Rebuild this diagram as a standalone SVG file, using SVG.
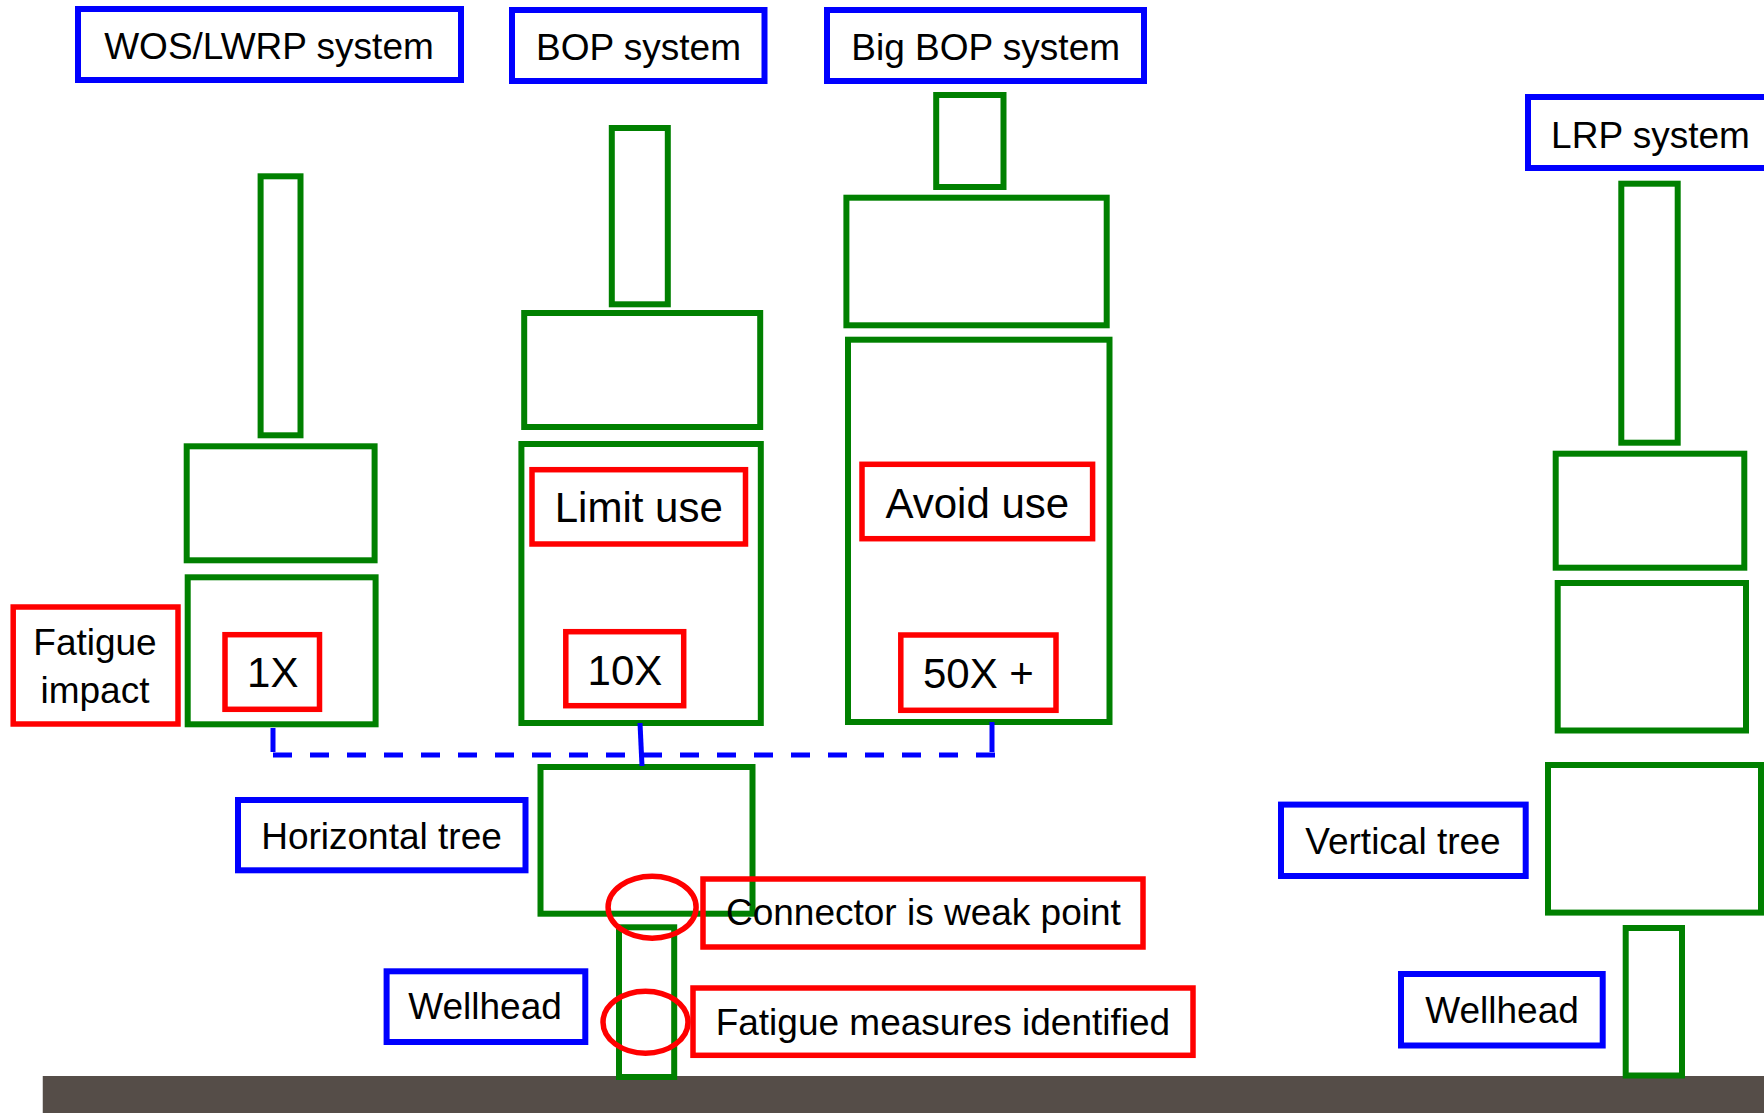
<svg xmlns="http://www.w3.org/2000/svg" width="1764" height="1113" viewBox="0 0 1764 1113">
<style>
.g{fill:none;stroke:#008000;stroke-width:6}
.b{fill:none;stroke:#0000FF;stroke-width:6}
.r{fill:none;stroke:#FF0000;stroke-width:5.5}
.t{font-family:"Liberation Sans",Arial,sans-serif;font-size:37px;fill:#000;text-anchor:middle}
.tb{font-family:"Liberation Sans",Arial,sans-serif;font-size:42px;fill:#000;text-anchor:middle}
.c{fill:none;stroke:#0000FF;stroke-width:5}
</style>
<rect width="1764" height="1113" fill="#fff"/>
<rect id="ground" x="42.75" y="1076" width="1722" height="37" fill="#554D48"/>

<g id="wos-riser"><rect class="g" x="260.6" y="176.3" width="39.9" height="259"/></g>
<g id="wos-box1"><rect class="g" x="186.7" y="446.3" width="187.9" height="114"/></g>
<g id="wos-box2"><rect class="g" x="187.7" y="577.3" width="187.9" height="147"/></g>
<g id="bop-riser"><rect class="g" x="611.8" y="128" width="56" height="176.3"/></g>
<g id="bop-box1"><rect class="g" x="524.2" y="313" width="236" height="114"/></g>
<g id="bop-box2"><rect class="g" x="521.4" y="444" width="239.4" height="279"/></g>
<g id="bigbop-top"><rect class="g" x="936.2" y="95" width="67.3" height="92"/></g>
<g id="bigbop-box1"><rect class="g" x="846.4" y="197.7" width="260.3" height="127.6"/></g>
<g id="bigbop-box2"><rect class="g" x="848" y="339.7" width="261.5" height="382.3"/></g>
<g id="htree"><rect class="g" x="540.5" y="767" width="212" height="146.7"/></g>
<g id="wellhead-left-tube"><rect class="g" x="619" y="927.3" width="55.2" height="149.7"/></g>
<g id="lrp-riser"><rect class="g" x="1621.3" y="183.7" width="56.4" height="259"/></g>
<g id="lrp-box1"><rect class="g" x="1555.7" y="453.7" width="188.6" height="114"/></g>
<g id="lrp-box2"><rect class="g" x="1557.7" y="583" width="188.3" height="147.5"/></g>
<g id="vtree"><rect class="g" x="1548" y="765" width="213" height="147.6"/></g>
<g id="wellhead-right-tube"><rect class="g" x="1625.7" y="928" width="56.3" height="147.5"/></g>

<g id="connectors">
<line class="c" x1="273" y1="728" x2="273" y2="752"/>
<line class="c" x1="273" y1="755" x2="995" y2="755" stroke-dasharray="19 18"/>
<line class="c" x1="992" y1="722" x2="992" y2="752"/>
<line class="c" x1="640" y1="723" x2="642" y2="766"/>
</g>

<g id="label-wos"><rect class="b" x="78" y="9" width="383" height="71"/><text class="t" x="269" y="59">WOS/LWRP system</text></g>
<g id="label-bop"><rect class="b" x="512" y="10" width="252.5" height="71"/><text class="t" x="638.5" y="59.5">BOP system</text></g>
<g id="label-bigbop"><rect class="b" x="827" y="10" width="317" height="71"/><text class="t" x="985.7" y="60">Big BOP system</text></g>
<g id="label-lrp"><rect class="b" x="1528" y="97" width="260" height="71"/><text class="t" x="1650.5" y="147.5">LRP system</text></g>
<g id="label-htree"><rect class="b" x="238" y="800" width="287.5" height="70.3"/><text class="t" x="381.5" y="848.5">Horizontal tree</text></g>
<g id="label-wellhead-left"><rect class="b" x="386.6" y="971.3" width="198.7" height="70.7"/><text class="t" x="485" y="1019.3">Wellhead</text></g>
<g id="label-vtree"><rect class="b" x="1281" y="804.6" width="244.7" height="71.4"/><text class="t" x="1403" y="853.5">Vertical tree</text></g>
<g id="label-wellhead-right"><rect class="b" x="1401" y="974" width="201.7" height="71.5"/><text class="t" x="1502" y="1022.8">Wellhead</text></g>

<g id="label-fatigue"><rect class="r" x="13.2" y="607" width="164.8" height="117"/><text class="t" x="95" y="655">Fatigue</text><text class="t" x="95" y="703.3">impact</text></g>
<g id="label-1x"><rect class="r" x="225" y="634.7" width="94.5" height="74.6"/><text class="tb" x="272.75" y="687.3">1X</text></g>
<g id="label-limit"><rect class="r" x="532" y="469.7" width="213.5" height="74.3"/><text class="tb" x="638.8" y="521.7">Limit use</text></g>
<g id="label-10x"><rect class="r" x="565.8" y="631.7" width="117.9" height="74"/><text class="tb" x="624.9" y="685">10X</text></g>
<g id="label-avoid"><rect class="r" x="862" y="464.3" width="230.6" height="74.4"/><text class="tb" x="977.3" y="517.7">Avoid use</text></g>
<g id="label-50x"><rect class="r" x="900.8" y="635" width="155.2" height="75.3"/><text class="tb" x="978.4" y="688.3">50X +</text></g>
<g id="weak-circle"><ellipse class="r" cx="652.1" cy="907.2" rx="44" ry="31"/></g>
<g id="fatigue-circle"><ellipse class="r" cx="645.5" cy="1022.2" rx="42.5" ry="31"/></g>
<g id="label-connector"><rect class="r" x="703" y="879" width="440" height="68"/><text class="t" x="923.4" y="925">Connector is weak point</text></g>
<g id="label-measures"><rect class="r" x="693" y="988" width="500" height="67.3"/><text class="t" x="942.9" y="1035">Fatigue measures identified</text></g>
</svg>
